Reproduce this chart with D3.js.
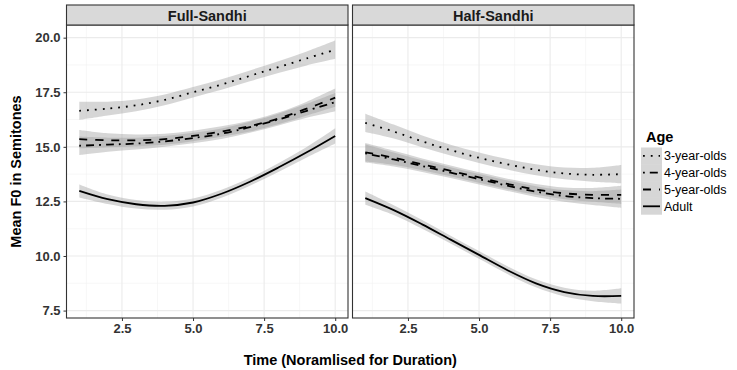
<!DOCTYPE html>
<html>
<head>
<meta charset="utf-8">
<script src="https://cdn.jsdelivr.net/npm/d3@7"></script>
<style>
  body { margin: 0; background: #fff; }
  text { font-family: "Liberation Sans", Arial, sans-serif; }
</style>
</head>
<body>
<div id="chart"></div>
<script>
// Data.
const panels = ['Full-Sandhi', 'Half-Sandhi'];
const ages = ['3-year-olds', '4-year-olds', '5-year-olds', 'Adult'];
const times = [1, 2, 3, 4, 5, 6, 7, 8, 9, 10];
const xTicks = [2.5, 5.0, 7.5, 10.0];
const yTicks = [7.5, 10.0, 12.5, 15.0, 17.5, 20.0];

// Full-Sandhi fitted means
const full3 = [16.65, 16.75, 16.9, 17.15, 17.5, 17.85, 18.25, 18.65, 19.05, 19.45];
const full4 = [15.05, 15.1, 15.15, 15.25, 15.4, 15.6, 15.9, 16.25, 16.65, 17.05];
const full5 = [15.35, 15.3, 15.3, 15.35, 15.5, 15.7, 15.95, 16.3, 16.75, 17.25];
const fullAdult = [12.98, 12.6, 12.37, 12.3, 12.45, 12.85, 13.4, 14.05, 14.75, 15.5];
// Half-Sandhi fitted means
const half3 = [16.1, 15.7, 15.25, 14.85, 14.5, 14.2, 13.95, 13.78, 13.72, 13.75];
const half4 = [14.7, 14.42, 14.12, 13.82, 13.52, 13.22, 12.95, 12.75, 12.65, 12.62];
const half5 = [14.75, 14.5, 14.2, 13.9, 13.6, 13.3, 13.05, 12.87, 12.8, 12.8];
const halfAdult = [12.65, 12.1, 11.45, 10.75, 10.05, 9.35, 8.75, 8.35, 8.17, 8.17];
// Half widths of the grey confidence ribbons
const seChild = [0.42, 0.32, 0.27, 0.25, 0.24, 0.24, 0.25, 0.27, 0.32, 0.42];
const seAdult = [0.3, 0.22, 0.2, 0.18, 0.18, 0.18, 0.18, 0.2, 0.24, 0.35];

const seriesByPanel = {
  'Full-Sandhi': [full3, full4, full5, fullAdult],
  'Half-Sandhi': [half3, half4, half5, halfAdult]
};
const seByAge = [seChild, seChild, seChild, seAdult];
const dashes = ['1.8 6', '1.8 5 8 5', '8 8', null];

const width = 737, height = 370;
const panelTop = 25, panelBottom = 318;
const panelX = [[66.5, 348], [352.5, 634]];
const stripTop = 5;
const fontFam = '"Liberation Sans", Arial, sans-serif';

const svg = d3.select('#chart').append('svg')
  .attr('width', width).attr('height', height);

const y = d3.scaleLinear().domain([7.16, 20.58]).range([panelBottom, panelTop]);

panels.forEach((name, pi) => {
  const [x0, x1] = panelX[pi];
  const x = d3.scaleLinear().domain([0.55, 10.45]).range([x0, x1]);
  const g = svg.append('g');

  // grid (minor then major)
  const xMinor = [1.25, 3.75, 6.25, 8.75];
  const yMinor = [8.75, 11.25, 13.75, 16.25, 18.75];
  g.selectAll('.xminor').data(xMinor).enter().append('line')
    .attr('x1', d => x(d)).attr('x2', d => x(d))
    .attr('y1', panelTop).attr('y2', panelBottom)
    .attr('stroke', '#f2f2f2').attr('stroke-width', 0.6);
  g.selectAll('.yminor').data(yMinor).enter().append('line')
    .attr('y1', d => y(d)).attr('y2', d => y(d))
    .attr('x1', x0).attr('x2', x1)
    .attr('stroke', '#f2f2f2').attr('stroke-width', 0.6);
  g.selectAll('.xmajor').data(xTicks).enter().append('line')
    .attr('x1', d => x(d)).attr('x2', d => x(d))
    .attr('y1', panelTop).attr('y2', panelBottom)
    .attr('stroke', '#ebebeb').attr('stroke-width', 1.1);
  g.selectAll('.ymajor').data(yTicks).enter().append('line')
    .attr('y1', d => y(d)).attr('y2', d => y(d))
    .attr('x1', x0).attr('x2', x1)
    .attr('stroke', '#ebebeb').attr('stroke-width', 1.1);

  const series = seriesByPanel[name];

  // ribbons
  series.forEach((vals, si) => {
    const se = seByAge[si];
    const area = d3.area()
      .x((d, i) => x(times[i]))
      .y0((d, i) => y(d - se[i]))
      .y1((d, i) => y(d + se[i]))
      .curve(d3.curveCatmullRom);
    g.append('path').datum(vals)
      .attr('d', area)
      .attr('fill', '#999').attr('fill-opacity', 0.4);
  });

  // lines
  series.forEach((vals, si) => {
    const line = d3.line()
      .x((d, i) => x(times[i]))
      .y(d => y(d))
      .curve(d3.curveCatmullRom);
    g.append('path').datum(vals)
      .attr('d', line)
      .attr('fill', 'none')
      .attr('stroke', '#000')
      .attr('stroke-width', 1.8)
      .attr('stroke-dasharray', dashes[si]);
  });

  // panel border
  g.append('rect')
    .attr('x', x0).attr('y', panelTop)
    .attr('width', x1 - x0).attr('height', panelBottom - panelTop)
    .attr('fill', 'none').attr('stroke', '#333').attr('stroke-width', 1.1);

  // strip
  g.append('rect')
    .attr('x', x0).attr('y', stripTop)
    .attr('width', x1 - x0).attr('height', panelTop - stripTop)
    .attr('fill', '#d9d9d9').attr('stroke', '#333').attr('stroke-width', 1.1);
  g.append('text')
    .attr('x', (x0 + x1) / 2).attr('y', (stripTop + panelTop) / 2 + 5.5)
    .attr('text-anchor', 'middle')
    .style('font-size', '14.5px').style('font-weight', 'bold')
    .attr('fill', '#1a1a1a')
    .text(name);

  // bottom axis
  const xAxis = svg.append('g')
    .attr('transform', `translate(0,${panelBottom})`)
    .call(d3.axisBottom(x).tickValues(xTicks).tickFormat(d3.format('.1f')).tickSize(3).tickPadding(3));
  xAxis.select('.domain').remove();
  xAxis.selectAll('line').attr('stroke', '#333');
  xAxis.selectAll('text')
    .style('font-size', '13px').style('font-weight', 'bold')
    .style('font-family', fontFam)
    .attr('fill', '#333');

  if (pi === 0) {
    const yAxis = svg.append('g')
      .attr('transform', `translate(${x0},0)`)
      .call(d3.axisLeft(y).tickValues(yTicks).tickFormat(d3.format('.1f')).tickSize(3).tickPadding(3));
    yAxis.select('.domain').remove();
    yAxis.selectAll('line').attr('stroke', '#333');
    yAxis.selectAll('text')
      .style('font-size', '13px').style('font-weight', 'bold')
      .style('font-family', fontFam)
      .attr('fill', '#333');
  }
});

// axis titles
svg.append('text')
  .attr('x', (panelX[0][0] + panelX[1][1]) / 2).attr('y', 365)
  .attr('text-anchor', 'middle')
  .style('font-size', '14.5px').style('font-weight', 'bold')
  .text('Time (Noramlised for Duration)');
svg.append('text')
  .attr('transform', `translate(21,${(panelTop + panelBottom) / 2}) rotate(-90)`)
  .attr('text-anchor', 'middle')
  .style('font-size', '14.5px').style('font-weight', 'bold')
  .text('Mean F0 in Semitones');

// legend
const legend = svg.append('g').attr('transform', 'translate(641,130)');
legend.append('text')
  .attr('x', 5).attr('y', 12)
  .style('font-size', '14.5px').style('font-weight', 'bold')
  .text('Age');
const keyH = 16.8, keyW = 21, keyTop = 147.5 - 130;
ages.forEach((a, i) => {
  const ky = keyTop + i * keyH;
  legend.append('rect')
    .attr('x', 0).attr('y', ky)
    .attr('width', keyW).attr('height', keyH)
    .attr('fill', '#999').attr('fill-opacity', 0.4);
  legend.append('line')
    .attr('x1', 2).attr('x2', keyW - 2)
    .attr('y1', ky + keyH / 2).attr('y2', ky + keyH / 2)
    .attr('stroke', '#000').attr('stroke-width', 1.8)
    .attr('stroke-dasharray', dashes[i]);
  legend.append('text')
    .attr('x', keyW + 2).attr('y', ky + keyH / 2 + 4.5)
    .style('font-size', '12.5px')
    .attr('fill', '#000')
    .text(a);
});
</script>
</body>
</html>
